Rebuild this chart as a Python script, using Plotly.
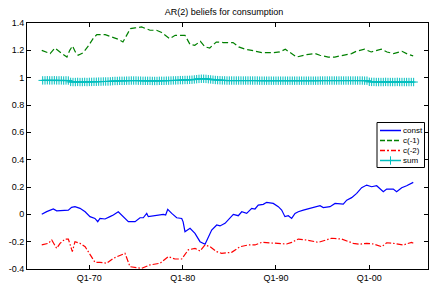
import numpy as np
import plotly.graph_objects as go

# ---------------- data ----------------
tick_years = [1970, 1980, 1990, 2000]
tick_labels = ["Q1-70", "Q1-80", "Q1-90", "Q1-00"]
series_names = ["const", "c(-1)", "c(-2)", "sum"]

const_x = [1964.9, 1965.43, 1966.14, 1966.5, 1967.75, 1968.1, 1968.46, 1969.0, 1969.55, 1970.07,
           1970.6, 1970.9, 1971.14, 1971.68, 1972.21, 1972.57, 1973.1, 1973.64, 1974.18, 1974.9,
           1975.43, 1975.78, 1976.15, 1976.32, 1977.22, 1977.93, 1978.18, 1978.4, 1978.83, 1979.36,
           1979.9, 1980.05, 1980.25, 1980.79, 1981.32, 1981.86, 1982.4, 1982.75, 1983.11, 1983.65,
           1984.0, 1984.54, 1985.07, 1985.43, 1985.96, 1986.33, 1986.86, 1987.4, 1987.75, 1988.1,
           1988.64, 1989.0, 1989.71, 1990.25, 1990.61, 1990.96, 1991.32, 1991.68, 1992.04, 1992.39,
           1992.93, 1993.83, 1994.72, 1995.07, 1995.79, 1996.33, 1997.21, 1997.58, 1998.11, 1998.65,
           1999.18, 1999.72, 2000.25, 2000.79, 2001.5, 2001.86, 2002.57, 2002.93, 2003.47, 2004.0,
           2004.54, 2004.71]
const_y = [0.000, 0.020, 0.039, 0.026, 0.031, 0.051, 0.056, 0.044, 0.019, -0.017,
           -0.030, -0.054, -0.030, -0.034, -0.017, -0.005, 0.019, -0.017, -0.054, -0.054,
           -0.025, -0.025, 0.007, -0.017, -0.005, 0.000, -0.005, 0.036, 0.007, -0.025,
           -0.030, -0.055, -0.127, -0.102, -0.139, -0.200, -0.219, -0.164, -0.115, -0.078,
           -0.085, -0.066, -0.030, 0.000, -0.010, 0.019, 0.007, 0.044, 0.039, 0.068,
           0.073, 0.088, 0.080, 0.056, 0.031, -0.017, -0.010, -0.030, 0.007, 0.019,
           0.031, 0.049, 0.063, 0.049, 0.056, 0.080, 0.075, 0.104, 0.122, 0.153,
           0.195, 0.214, 0.202, 0.209, 0.165, 0.185, 0.185, 0.165, 0.195, 0.209,
           0.227, 0.234]

c1_x = [1964.9, 1965.8, 1966.3, 1966.7, 1967.2, 1967.6, 1967.9, 1968.2, 1968.5, 1968.8,
        1969.35, 1969.9, 1970.4, 1970.8, 1971.7, 1972.4, 1973.1, 1973.6, 1974.0, 1974.4,
        1974.9, 1975.6, 1976.5, 1977.2, 1977.75, 1978.6, 1979.2, 1980.25, 1980.8, 1981.3,
        1981.9, 1982.4, 1982.9, 1983.6, 1984.35, 1985.4, 1986.0, 1986.7, 1987.4, 1987.9,
        1988.5, 1989.7, 1990.4, 1991.0, 1991.5, 1992.2, 1993.3, 1994.2, 1994.7, 1995.6,
        1996.3, 1997.2, 1998.1, 1998.6, 1999.5, 2000.2, 2001.3, 2001.9, 2002.6, 2003.5,
        2004.2, 2004.7]
c1_y = [1.200, 1.176, 1.217, 1.193, 1.169, 1.151, 1.200, 1.232, 1.188, 1.164,
        1.183, 1.232, 1.286, 1.315, 1.315, 1.298, 1.281, 1.261, 1.310, 1.359,
        1.364, 1.371, 1.347, 1.347, 1.330, 1.286, 1.310, 1.310, 1.242, 1.237,
        1.266, 1.225, 1.217, 1.261, 1.257, 1.257, 1.225, 1.208, 1.200, 1.193,
        1.183, 1.183, 1.188, 1.208, 1.183, 1.151, 1.169, 1.176, 1.164, 1.151,
        1.151, 1.164, 1.176, 1.193, 1.208, 1.188, 1.208, 1.188, 1.176, 1.193,
        1.169, 1.160]

c2_x = [1964.9, 1965.6, 1965.97, 1966.5, 1966.86, 1967.4, 1967.75, 1968.18, 1968.46, 1969.0,
        1969.55, 1970.07, 1970.6, 1971.14, 1971.86, 1972.57, 1973.29, 1973.82, 1974.36, 1974.9,
        1975.61, 1976.5, 1977.57, 1978.46, 1979.18, 1979.9, 1980.6, 1981.32, 1981.86, 1982.4,
        1982.93, 1983.65, 1984.18, 1985.25, 1986.14, 1987.04, 1987.75, 1988.47, 1989.71, 1990.61,
        1991.14, 1991.68, 1992.39, 1993.29, 1994.53, 1995.97, 1997.04, 1998.28, 1999.0, 1999.72,
        2000.43, 2001.33, 2001.86, 2002.57, 2003.64, 2004.54, 2004.71]
c2_y = [-0.224, -0.212, -0.188, -0.249, -0.212, -0.181, -0.181, -0.273, -0.200, -0.212,
        -0.237, -0.298, -0.351, -0.351, -0.358, -0.322, -0.298, -0.285, -0.383, -0.390,
        -0.395, -0.370, -0.358, -0.310, -0.327, -0.327, -0.260, -0.249, -0.268, -0.224,
        -0.237, -0.273, -0.285, -0.278, -0.237, -0.224, -0.224, -0.205, -0.212, -0.212,
        -0.217, -0.205, -0.181, -0.188, -0.205, -0.175, -0.181, -0.212, -0.219, -0.212,
        -0.217, -0.237, -0.208, -0.212, -0.224, -0.205, -0.212]

# quarterly dates 1965Q1 .. 2004Q4
sum_x = list(1965 + 0.25 * np.arange(160))
sum_y = [0.980, 0.980, 0.981, 0.980, 0.980, 0.981, 0.980, 0.980, 0.980, 0.979, 0.980, 0.979,
         0.969, 0.968, 0.968, 0.969, 0.968, 0.968, 0.969, 0.968, 0.969, 0.969, 0.970, 0.970,
         0.971, 0.971, 0.972, 0.972, 0.972, 0.973,
         0.975, 0.976, 0.976, 0.977, 0.977, 0.977, 0.978, 0.978, 0.979, 0.979, 0.979, 0.978,
         0.978, 0.977, 0.977, 0.977, 0.977, 0.976, 0.976, 0.976, 0.977, 0.977, 0.977, 0.978,
         0.978, 0.979, 0.980, 0.980, 0.981, 0.982, 0.982, 0.983, 0.983, 0.984,
         0.985, 0.987, 0.989, 0.991, 0.992, 0.992, 0.991, 0.989, 0.987, 0.985,
         0.983, 0.982, 0.981, 0.980, 0.980, 0.979, 0.979, 0.979, 0.979, 0.979, 0.979, 0.979,
         0.979, 0.979, 0.979, 0.979, 0.979, 0.979, 0.979, 0.978, 0.978, 0.978, 0.978, 0.978,
         0.978, 0.978, 0.978, 0.978, 0.978, 0.978, 0.978, 0.978, 0.978, 0.978, 0.978, 0.978,
         0.978, 0.978, 0.978, 0.978, 0.978, 0.978, 0.978, 0.978, 0.978, 0.979, 0.979, 0.979,
         0.979, 0.979, 0.979, 0.979, 0.979, 0.979, 0.979, 0.979, 0.979, 0.979, 0.979, 0.979,
         0.979, 0.979, 0.979, 0.979, 0.978, 0.978,
         0.970, 0.969, 0.969, 0.968, 0.968, 0.968, 0.968, 0.969, 0.968, 0.968,
         0.968, 0.968, 0.969, 0.968, 0.968, 0.968, 0.968, 0.968, 0.968, 0.968]

# ---------------- figure ----------------
FONT = "Liberation Sans, Arial, sans-serif"
W, H = 430, 285
ML, MR, MT, MB = 27, 2, 23, 16
PW, PH = W - ML - MR, H - MT - MB

colors = ["#0000ff", "#008000", "#ff0000", "#00bfbf"]
dashes = ["solid", "6px,3px", "6px,2px,1.5px,2px", "solid"]
legend_dashes = ["solid", "5px,2px", "5px,2px,2px,2px", "solid"]
cross = dict(symbol="cross-thin", size=6, line=dict(width=1, color=colors[3]), color=colors[3])

fig = go.Figure()
for xs, ys, nm, col, ds in [(const_x, const_y, series_names[0], colors[0], dashes[0]),
                            (c1_x, c1_y, series_names[1], colors[1], dashes[1]),
                            (c2_x, c2_y, series_names[2], colors[2], dashes[2])]:
    fig.add_trace(go.Scatter(x=xs, y=ys, mode="lines", name=nm,
                             line=dict(color=col, width=1.2, dash=ds)))
fig.add_trace(go.Scatter(x=sum_x, y=sum_y, mode="lines+markers", name=series_names[3],
                         line=dict(color=colors[3], width=1.2), marker=cross))

# ---- compact MATLAB-style legend: samples drawn on a hidden pixel-coordinate overlay axis ----
row_y = [130.5, 140.5, 150.5, 160.5]
for i, nm in enumerate(series_names):
    fig.add_trace(go.Scatter(x=[380, 401], y=[row_y[i], row_y[i]], mode="lines",
                             xaxis="x2", yaxis="y2", hoverinfo="skip", showlegend=False,
                             line=dict(color=colors[i], width=1.5, dash=legend_dashes[i])))
fig.add_trace(go.Scatter(x=[390.5], y=[row_y[3]], mode="markers", marker=cross,
                         xaxis="x2", yaxis="y2", hoverinfo="skip", showlegend=False))

axis_common = dict(showline=True, linecolor="black", linewidth=1, mirror="ticks",
                   ticks="inside", ticklen=4, tickcolor="black", tickwidth=1,
                   showgrid=False, zeroline=False, automargin=False,
                   tickfont=dict(family=FONT, size=9, color="black"))
fig.update_layout(
    xaxis=dict(range=[1963.32, 2006.29], tickmode="array",
               tickvals=tick_years, ticktext=tick_labels, **axis_common),
    yaxis=dict(range=[-0.4, 1.4], tickmode="array",
               tickvals=[-0.4, -0.2, 0, 0.2, 0.4, 0.6, 0.8, 1.0, 1.2, 1.4],
               ticktext=["-0.4", "-0.2", "0", "0.2", "0.4", "0.6", "0.8", "1", "1.2", "1.4"],
               **axis_common),
    xaxis2=dict(overlaying="x", range=[ML, W - MR], visible=False, fixedrange=True),
    yaxis2=dict(overlaying="y", range=[H - MB, MT], visible=False, fixedrange=True),
)

annotations = []
for i, nm in enumerate(series_names):
    annotations.append(dict(text=nm, xref="x2", yref="y2", x=401, y=row_y[i],
                            xanchor="left", yanchor="middle", showarrow=False,
                            font=dict(family=FONT, size=8, color="black")))

shapes = [dict(type="rect", xref="x2", yref="y2", x0=377, x1=424.5, y0=122.5, y1=167.5,
               line=dict(color="black", width=1), fillcolor="white", layer="below")]

fig.update_layout(
    width=W, height=H,
    margin=dict(l=ML, r=MR, t=MT, b=MB),
    paper_bgcolor="white", plot_bgcolor="white",
    title=dict(text="AR(2) beliefs for consumption", x=0.521, xanchor="center",
               y=0.957, yanchor="middle",
               font=dict(family=FONT, size=9, color="black")),
    showlegend=False,
    shapes=shapes,
    annotations=annotations,
)

fig.write_html("out.html", config={"displayModeBar": False},
               post_script="document.body.style.margin='0';")
